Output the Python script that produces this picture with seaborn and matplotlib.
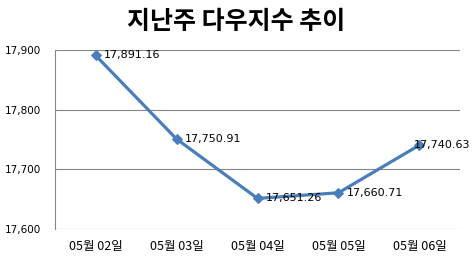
import matplotlib
matplotlib.use("Agg")
import matplotlib.pyplot as plt
import seaborn as sns
import pandas as pd

title = "지난주 다우지수 추이"
dates = ["05월 02일", "05월 03일", "05월 04일", "05월 05일", "05월 06일"]
values = [17891.16, 17750.91, 17651.26, 17660.71, 17740.63]
y_ticks = [17600, 17700, 17800, 17900]

sns.set_theme(style="white")
plt.rcParams["font.family"] = ["DejaVu Sans"]

df = pd.DataFrame({"date": dates, "value": values})

fig = plt.figure(figsize=(4.73, 2.62), dpi=100)
ax = fig.add_axes([0.1163, 0.126, 0.8562, 0.683])

color = "#4A7EBB"
sns.lineplot(data=df, x="date", y="value", ax=ax, sort=False, color=color,
             linewidth=2.3, marker="D", markersize=5.5, markeredgecolor=color,
             markerfacecolor=color)

ax.set_xlim(-0.5, len(dates) - 0.5)
ax.set_ylim(y_ticks[0], y_ticks[-1])
ax.set_yticks(y_ticks)
ax.set_yticklabels([f"{v:,}" for v in y_ticks], fontsize=7.5, color="black")
ax.set_xticks(range(len(dates)))
ax.set_xticklabels(dates, fontsize=9, family=["Noto Sans CJK KR", "DejaVu Sans"], color="black")
ax.tick_params(axis="y", length=0, pad=10)
ax.tick_params(axis="x", length=0, pad=8)
ax.set_xlabel("")
ax.set_ylabel("")

ax.grid(axis="y", color="#868686", linewidth=0.8)
ax.set_axisbelow(True)
for s in ["top", "right", "bottom"]:
    ax.spines[s].set_visible(False)
ax.spines["left"].set_color("#868686")
ax.spines["left"].set_linewidth(0.8)

for i, v in enumerate(values):
    if i == len(values) - 1:
        off = -4
    else:
        off = 6
    ax.annotate(f"{v:,.2f}", (i, v), xytext=(off, 0), textcoords="offset points",
                ha="left", va="center", fontsize=8, color="black")

fig.text(0.5, 0.915, title, ha="center", va="center", fontsize=18, fontweight="black",
         color="black", family=["Noto Sans CJK KR", "DejaVu Sans"])

fig.savefig("out.png", dpi=100, facecolor="white")
